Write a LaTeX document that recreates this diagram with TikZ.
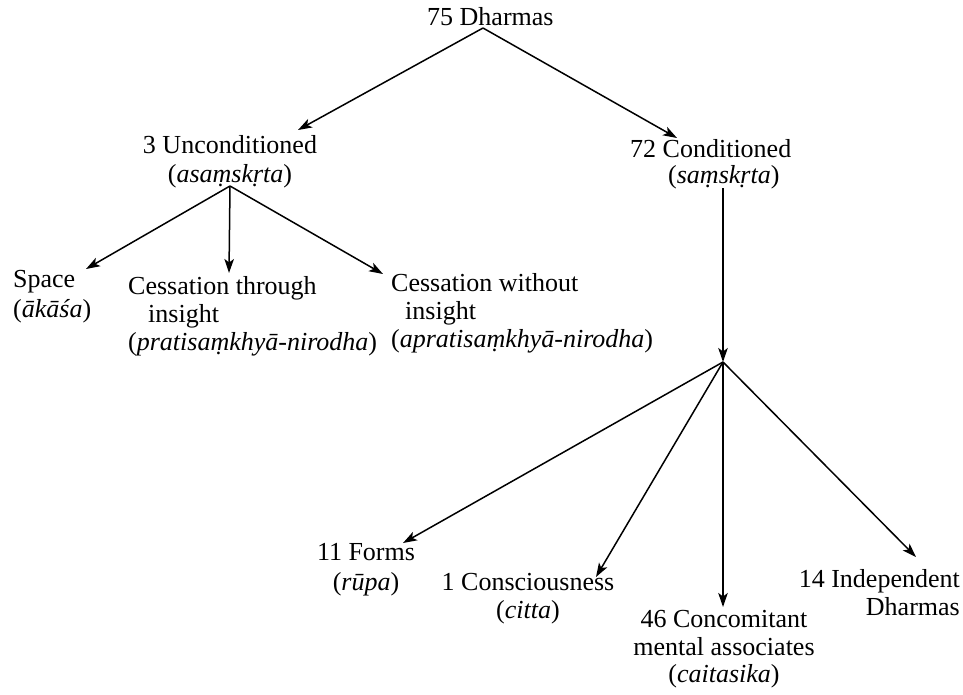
\documentclass[tikz,border=0pt]{standalone}
\usepackage{fontspec}
\setmainfont{Liberation Serif}
\usetikzlibrary{arrows.meta}
\begin{document}
\begin{tikzpicture}[x=1pt,y=-1pt,
  lbl/.style={inner sep=0pt, font=\fontsize{26}{29}\selectfont},
  conn/.style={line width=1.5pt, -{Stealth[length=14pt,width=9.5pt,inset=3.5pt]}}]
\useasboundingbox[fill=white] (0,0) rectangle (963,694);

% labels
\node[lbl, anchor=base west] (top) at (427,25) {75 Dharmas};
\node[lbl, anchor=base] (unc) at (230,153)
  {\begin{tabular}[t]{@{}c@{}}3 Unconditioned\\(\textit{asaṃskṛta})\end{tabular}};
\node[lbl, anchor=base west] (cond) at (630,157)
  {\begin{tabular}[t]{@{}l@{}}72 Conditioned\\[-3pt]\hspace*{38pt}(\textit{saṃskṛta})\end{tabular}};
\node[lbl, anchor=base west] (space) at (13,287)
  {\begin{tabular}[t]{@{}l@{}}Space\\[1pt](\textit{ākāśa})\end{tabular}};
\node[lbl, anchor=base west] (cti) at (128,294)
  {\begin{tabular}[t]{@{}l@{}}Cessation through\\[-1pt]\hspace*{20pt}insight\\[-1pt](\textit{pratisaṃkhyā-nirodha})\end{tabular}};
\node[lbl, anchor=base west] (cwi) at (391,291)
  {\begin{tabular}[t]{@{}l@{}}Cessation without\\[-1pt]\hspace*{14pt}insight\\[-1pt](\textit{apratisaṃkhyā-nirodha})\end{tabular}};
\node[lbl, anchor=base] (forms) at (366,560)
  {\begin{tabular}[t]{@{}c@{}}11 Forms\\[1pt](\textit{rūpa})\end{tabular}};
\node[lbl, anchor=base] (cons) at (528,590)
  {\begin{tabular}[t]{@{}c@{}}1 Consciousness\\[-1pt](\textit{citta})\end{tabular}};
\node[lbl, anchor=base] (conc) at (724,627)
  {\begin{tabular}[t]{@{}c@{}}46 Concomitant\\[-1pt]mental associates\\[-2pt](\textit{caitasika})\end{tabular}};
\node[lbl, anchor=base east] (ind) at (960,587)
  {\begin{tabular}[t]{@{}r@{}}14 Independent\\[-1pt]Dharmas\end{tabular}};

% junction points and arrow tips
\coordinate (apex) at (483,28);
\coordinate (uhub) at (230,186);
\coordinate (ctop) at (723,188);
\coordinate (chub) at (723,362);
\coordinate (unc-in) at (298,130);
\coordinate (cond-in) at (677,138);
\coordinate (space-in) at (86,269);
\coordinate (cti-in) at (229,273);
\coordinate (cwi-in) at (383,274);
\coordinate (forms-in) at (403,543);
\coordinate (cons-in) at (596,577);
\coordinate (conc-in) at (723,607);
\coordinate (ind-in) at (916,557);

% connectors
\draw[conn] (apex) -- (unc-in);
\draw[conn] (apex) -- (cond-in);
\draw[conn] (uhub) -- (space-in);
\draw[conn] (uhub) -- (cti-in);
\draw[conn] (uhub) -- (cwi-in);
\draw[conn] (ctop) -- (chub);
\draw[conn] (chub) -- (forms-in);
\draw[conn] (chub) -- (cons-in);
\draw[conn] (chub) -- (conc-in);
\draw[conn] (chub) -- (ind-in);
\end{tikzpicture}
\end{document}
